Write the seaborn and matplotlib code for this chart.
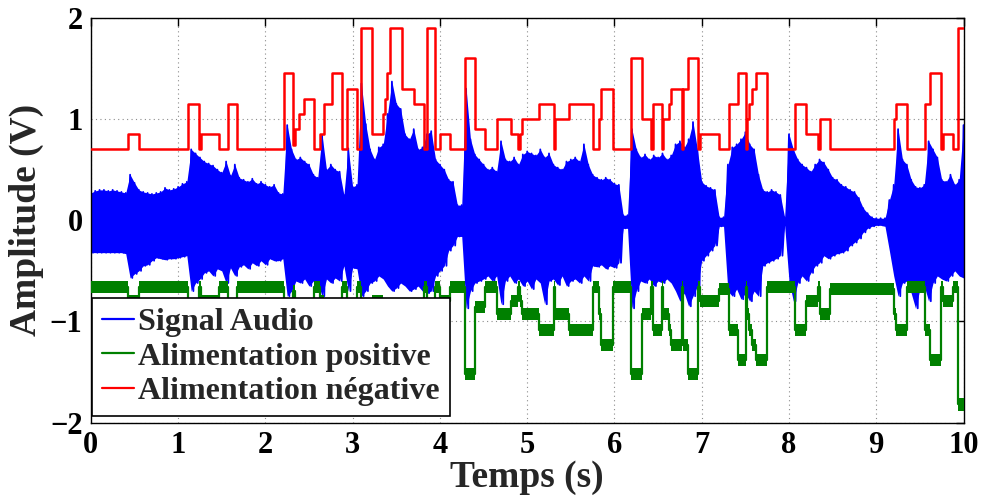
import numpy as np
import pandas as pd
import matplotlib
matplotlib.use("Agg")
import matplotlib.pyplot as plt
import seaborn as sns

# ---------------- data ----------------
# audio envelope, sampled every 0.05 s (upper peaks / lower peaks)
audio_hi = [
    0.27, 0.29, 0.30, 0.30, 0.29, 0.30, 0.29, 0.28, 0.27, 0.45,
    0.37, 0.30, 0.28, 0.27, 0.26, 0.27, 0.28, 0.32, 0.30, 0.31,
    0.33, 0.36, 0.38, 0.70, 0.66, 0.62, 0.58, 0.56, 0.54, 0.50,
    0.47, 0.58, 0.44, 0.55, 0.42, 0.40, 0.38, 0.41, 0.36, 0.38,
    0.35, 0.33, 0.35, 0.27, 0.26, 0.94, 0.70, 0.60, 0.62, 0.58,
    0.55, 0.45, 0.42, 0.84, 0.50, 0.55, 0.50, 0.48, 0.25, 0.71,
    0.33, 0.35, 1.35, 0.95, 0.70, 0.60, 0.72, 0.75, 1.05, 1.37,
    1.15, 1.10, 0.85, 0.80, 0.90, 0.70, 0.72, 0.85, 0.88, 0.60,
    0.55, 0.50, 0.40, 0.38, 0.15, 0.15, 1.30, 0.80, 0.65, 0.60,
    0.55, 0.50, 0.52, 0.48, 0.78, 0.60, 0.58, 0.62, 0.55, 0.65,
    0.68, 0.66, 0.64, 0.70, 0.62, 0.66, 0.55, 0.52, 0.50, 0.58,
    0.60, 0.62, 0.58, 0.75, 0.55, 0.45, 0.42, 0.40, 0.42, 0.40,
    0.36, 0.35, 0.05, 0.05, 0.90, 0.70, 0.62, 0.65, 0.60, 0.64,
    0.62, 0.66, 0.60, 0.64, 0.75, 0.78, 0.72, 0.80, 0.97, 0.70,
    0.38, 0.34, 0.32, 0.30, 0.03, 0.03, 0.55, 0.72, 0.75, 0.80,
    0.87, 0.75, 0.70, 0.45, 0.30, 0.28, 0.30, 0.28, 0.25, 0.03,
    0.85, 0.70, 0.60, 0.55, 0.52, 0.48, 0.55, 0.60, 0.57, 0.50,
    0.42, 0.40, 0.35, 0.33, 0.30, 0.28, 0.22, 0.12, 0.07, 0.03,
    0.02, 0.02, 0.02, 0.20, 0.35, 0.90, 0.60, 0.55, 0.40, 0.33,
    0.32, 0.35, 0.78, 0.70, 0.62, 0.40, 0.38, 0.45, 0.35, 0.40,
    0.94,
]
audio_lo = [
    -0.32, -0.32, -0.32, -0.32, -0.32, -0.32, -0.32, -0.32, -0.33, -0.57,
    -0.53, -0.50, -0.45, -0.44, -0.40, -0.37, -0.38, -0.39, -0.38, -0.38,
    -0.37, -0.36, -0.35, -0.70, -0.62, -0.58, -0.52, -0.50, -0.55, -0.48,
    -0.50, -0.62, -0.47, -0.55, -0.46, -0.44, -0.48, -0.42, -0.45, -0.40,
    -0.44, -0.38, -0.40, -0.40, -0.38, -0.75, -0.70, -0.60, -0.62, -0.58,
    -0.65, -0.60, -0.62, -0.75, -0.58, -0.62, -0.57, -0.60, -0.45, -0.70,
    -0.47, -0.48, -0.75, -0.70, -0.62, -0.60, -0.55, -0.58, -0.65, -0.70,
    -0.67, -0.62, -0.65, -0.70, -0.68, -0.65, -0.70, -0.72, -0.70, -0.55,
    -0.50, -0.45, -0.30, -0.25, -0.16, -0.16, -0.87, -0.70, -0.62, -0.60,
    -0.58, -0.55, -0.60, -0.55, -0.83, -0.60, -0.55, -0.62, -0.58, -0.65,
    -0.60, -0.68, -0.58, -0.62, -0.83, -0.60, -0.58, -0.64, -0.55, -0.65,
    -0.60, -0.58, -0.62, -0.55, -0.60, -0.45, -0.46, -0.44, -0.48, -0.45,
    -0.47, -0.42, -0.08, -0.08, -0.87, -0.70, -0.60, -0.62, -0.58, -0.65,
    -0.60, -0.62, -0.58, -0.62, -0.70, -0.80, -0.72, -0.85, -0.75, -0.65,
    -0.40, -0.35, -0.30, -0.25, -0.06, -0.06, -0.70, -0.75, -0.68, -0.78,
    -0.72, -0.80, -0.70, -0.75, -0.45, -0.42, -0.40, -0.38, -0.35, -0.05,
    -0.60, -0.80, -0.62, -0.55, -0.60, -0.52, -0.45, -0.42, -0.35, -0.38,
    -0.35, -0.33, -0.32, -0.30, -0.25, -0.22, -0.18, -0.12, -0.08, -0.06,
    -0.05, -0.05, -0.06, -0.30, -0.55, -0.75, -0.62, -0.60, -0.72, -0.87,
    -0.68, -0.65, -0.80, -0.62, -0.55, -0.58, -0.60, -0.55, -0.50, -0.55,
    -0.57,
]
audio_step = 0.05  # sampling interval of the envelope (s)

# supply rails: switching instants (s) and levels (V)
supply_t = [
    0.00, 0.43, 0.555, 1.11, 1.24, 1.265, 1.47, 1.575, 1.68, 2.21,
    2.32, 2.335, 2.39, 2.44, 2.555, 2.625, 2.67, 2.76, 2.88, 2.93,
    3.05, 3.09, 3.22, 3.35, 3.37, 3.39, 3.43, 3.56, 3.70, 3.82,
    3.85, 3.94, 4.00, 4.12, 4.29, 4.40, 4.52, 4.65, 4.81, 4.89,
    4.92, 4.945, 5.13, 5.31, 5.32, 5.48, 5.75, 5.82, 5.85, 5.98,
    6.19, 6.31, 6.42, 6.44, 6.54, 6.56, 6.63, 6.65, 6.77, 6.79,
    6.84, 6.96, 6.98, 7.20, 7.31, 7.41, 7.51, 7.52, 7.54, 7.58,
    7.62, 7.75, 8.07, 8.20, 8.33, 8.36, 8.47, 9.20, 9.23, 9.35,
    9.56, 9.61, 9.74, 9.77, 9.88, 9.94, 10.00,
]
red_v = [
    0.70, 0.85, 0.70, 1.15, 0.70, 0.85, 0.70, 1.15, 0.70, 1.45,
    0.74, 0.90, 1.05, 1.20, 0.70, 0.85, 1.15, 1.45, 0.70, 1.30,
    0.70, 1.90, 0.85, 1.05, 1.20, 1.45, 1.90, 1.30, 1.15, 0.70,
    1.90, 0.70, 0.85, 0.70, 1.60, 0.90, 0.70, 1.00, 0.85, 0.70,
    0.85, 1.00, 1.15, 0.70, 1.00, 1.15, 0.70, 1.00, 1.30, 0.70,
    1.60, 1.00, 0.70, 1.15, 0.70, 1.00, 1.15, 1.30, 0.70, 1.30,
    1.60, 0.70, 0.85, 0.70, 1.15, 1.45, 0.70, 1.00, 1.15, 1.30,
    1.45, 0.70, 1.15, 0.85, 0.70, 1.00, 0.70, 1.00, 1.15, 0.70,
    1.15, 1.45, 0.70, 0.85, 0.70, 1.90, 1.90,
]
green_v = [
    -0.66, -0.80, -0.66, -1.08, -0.66, -0.80, -0.66, -1.08, -0.66, -1.38,
    -0.70, -0.86, -0.98, -1.13, -0.66, -0.80, -1.08, -1.38, -0.66, -1.23,
    -0.66, -1.82, -0.80, -0.98, -1.13, -1.38, -1.82, -1.23, -1.08, -0.66,
    -1.82, -0.66, -0.80, -0.66, -1.52, -0.86, -0.66, -0.93, -0.80, -0.66,
    -0.80, -0.93, -1.08, -0.66, -0.93, -1.08, -0.66, -0.93, -1.23, -0.66,
    -1.52, -0.93, -0.66, -1.08, -0.66, -0.93, -1.08, -1.23, -0.66, -1.23,
    -1.52, -0.66, -0.80, -0.68, -1.08, -1.38, -0.66, -0.93, -1.08, -1.23,
    -1.38, -0.66, -1.08, -0.80, -0.66, -0.93, -0.68, -0.93, -1.08, -0.66,
    -1.08, -1.38, -0.66, -0.80, -0.66, -1.82, -1.82,
]
green_ripple = 0.06  # half-width of the ripple band on the green rail

labels = ["Signal Audio", "Alimentation positive", "Alimentation négative"]
x_ticks = list(range(0, 11))
y_ticks = [-2, -1, 0, 1, 2]

# ---------------- styling ----------------
sns.set_theme(style="white")
plt.rcParams["font.family"] = ["Liberation Serif", "DejaVu Serif"]
plt.rcParams["font.weight"] = "bold"
plt.rcParams["axes.unicode_minus"] = True

fig = plt.figure(figsize=(9.82, 4.99), dpi=100)
ax = fig.add_axes([0.0925, 0.1529, 0.8887, 0.8114])

# audio: dense oscillation between read envelope peaks
n = len(audio_hi)
t_audio = np.arange(n) * audio_step
zig_x = np.column_stack([t_audio, t_audio + audio_step / 2]).ravel()
zig_y = np.column_stack([audio_hi, audio_lo]).ravel()
df_audio = pd.DataFrame({"t": zig_x, "v": zig_y})
ax.fill_between(t_audio, audio_lo, audio_hi, color="#0000ff", lw=0, zorder=2)
sns.lineplot(data=df_audio, x="t", y="v", ax=ax, sort=False, estimator=None,
             color="#0000ff", lw=1.3, label=labels[0], zorder=2)

# green rail with ripple band
df_green = pd.DataFrame({"t": supply_t, "v": green_v})
g = np.array(green_v)
ax.fill_between(supply_t, g - green_ripple, g + green_ripple, step="post",
                color="#008000", lw=0, zorder=3)
sns.lineplot(data=df_green, x="t", y="v", ax=ax, drawstyle="steps-post",
             estimator=None, color="#008000", lw=1.6, label=labels[1], zorder=3)

# red rail
df_red = pd.DataFrame({"t": supply_t, "v": red_v})
sns.lineplot(data=df_red, x="t", y="v", ax=ax, drawstyle="steps-post",
             estimator=None, color="#ff0000", lw=1.8, label=labels[2], zorder=4)

ax.set_xlim(0, 10)
ax.set_ylim(-2, 2)
ax.set_xticks(x_ticks)
ax.set_yticks(y_ticks)
ax.set_xticklabels([str(v) for v in x_ticks])
ax.set_yticklabels([("\u2212" + str(-v)) if v < 0 else str(v) for v in y_ticks])
ax.grid(True, color="#8c8c8c", linestyle=(0, (1, 3)), lw=0.8, zorder=0)
ax.set_axisbelow(True)
for s in ax.spines.values():
    s.set_visible(True)
    s.set_color("black")
    s.set_linewidth(1.0)
ax.tick_params(axis="both", direction="in", length=6, width=1.0,
               top=True, right=True, labelsize=22, pad=6, colors="black")
for lab in ax.get_xticklabels() + ax.get_yticklabels():
    lab.set_fontweight("bold")

ax.set_xlabel("Temps (s)", fontsize=27, fontweight="bold", labelpad=0)
ax.set_ylabel("Amplitude (V)", fontsize=27, fontweight="bold", labelpad=4)

leg = ax.legend(loc="lower left", bbox_to_anchor=(0.0014, 0.0165),
                borderaxespad=0, frameon=True, fancybox=False,
                prop={"family": ["Liberation Serif"], "weight": "bold", "size": 23},
                handlelength=1.0, handletextpad=0.15, labelspacing=0.17,
                borderpad=0.3)
leg.get_frame().set_edgecolor("black")
leg.get_frame().set_linewidth(1.2)
leg.get_frame().set_alpha(1.0)
for h in leg.get_lines():
    h.set_linewidth(1.6)

fig.savefig("out.png", dpi=100)
